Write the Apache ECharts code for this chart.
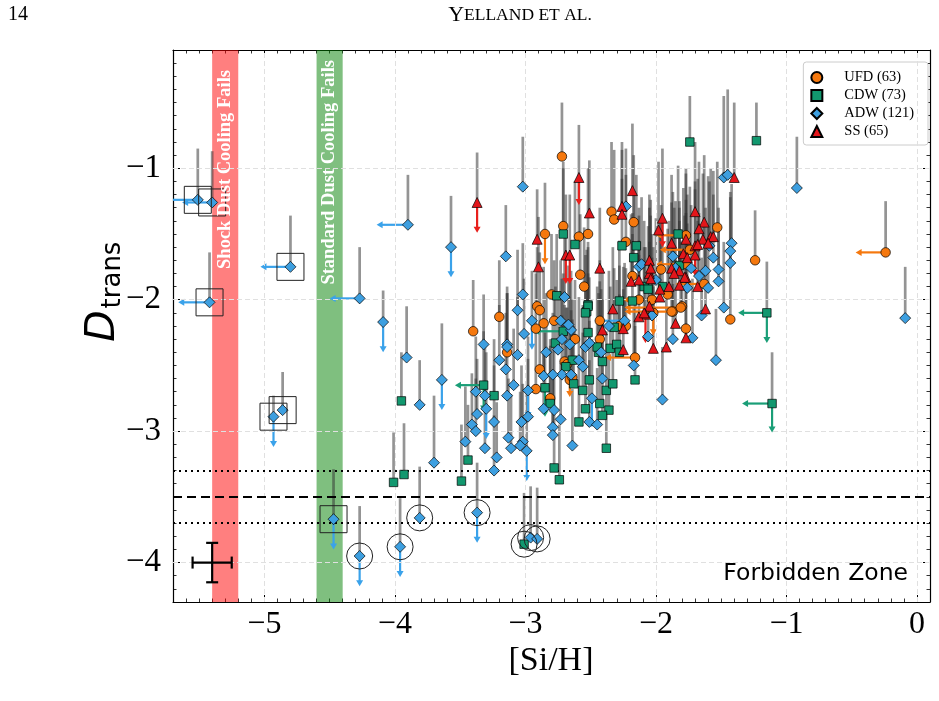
<!DOCTYPE html>
<html><head><meta charset="utf-8">
<script src="https://cdn.jsdelivr.net/npm/echarts@6/dist/echarts.min.js"></script>
<style>html,body{margin:0;padding:0;background:#fff}#c{width:939px;height:701px}</style>
</head><body><div id="c"></div>
<script>
// ---------- data ----------
const xTicks = [-5, -4, -3, -2, -1, 0];
const yTicks = [-4, -3, -2, -1];
const seriesNames = ['UFD (63)', 'CDW (73)', 'ADW (121)', 'SS (65)'];

// [Si/H], D_trans, top of upper error bar
const ufd = [
[-2.72,-0.91,-0.50],[-2.85,-1.50,-1.11],[-2.91,-2.05,-1.60],[-2.89,-2.08,-1.64],[-3.20,-2.13,-1.70],
[-2.80,-1.96,-1.50],[-2.71,-1.44,-0.95],[-2.59,-1.52,-1.05],[-2.52,-1.50,-1.00],[-2.58,-1.81,-1.35],
[-2.55,-1.90,-1.45],[-2.34,-1.33,-0.80],[-2.32,-1.39,-0.86],[-2.17,-1.41,-0.90],[-2.23,-1.56,-1.05],
[-2.18,-1.82,-1.34],[-1.96,-1.77,-1.28],[-1.77,-1.51,-1.00],[-1.77,-1.73,-1.24],[-1.91,-1.96,-1.46],
[-2.03,-2.00,-1.50],[-1.87,-2.09,-1.58],[-1.77,-2.22,-1.76],[-2.16,-2.44,-2.00],[-2.28,-2.20,-1.74],
[-2.23,-2.20,-1.76],[-2.43,-2.30,-1.86],[-2.43,-2.16,-1.70],[-2.62,-2.30,-1.85],[-2.70,-2.47,-2.04],
[-2.68,-2.49,-2.06],[-2.66,-2.61,-2.20],[-2.64,-2.59,-2.15],[-2.92,-2.68,-2.25],[-2.89,-2.53,-2.10],
[-2.78,-2.16,-1.70],[-2.86,-2.18,-1.75],[-2.92,-2.22,-1.80],[-3.40,-2.24,-1.85],[-3.14,-2.40,-1.95],
[-2.81,-2.75,-2.30],[-1.53,-1.45,-0.95],[-1.74,-1.62,-1.14],[-1.63,-1.88,-1.40],[-1.80,-2.05,-1.55],
[-1.43,-2.15,-1.66],[-1.24,-1.70,-1.32],[-0.24,-1.64,-1.25],[-2.02,-2.10,-1.60],[-1.81,-2.06,-1.56],
[-1.88,-2.09,-1.62],[-2.13,-2.00,-1.55]
];
const cdw = [
[-4.01,-3.39,-3.01],[-3.93,-3.33,-2.94],[-3.95,-2.77,-2.40],[-3.49,-3.38,-2.95],[-3.44,-3.22,-2.80],
[-3.01,-3.86,-3.47],[-2.78,-3.28,-2.85],[-2.74,-3.37,-2.95],[-2.59,-2.93,-2.50],[-2.38,-3.13,-2.70],
[-2.76,-1.97,-1.50],[-2.71,-1.50,-1.00],[-2.62,-1.58,-1.10],[-2.52,-2.04,-1.56],[-2.53,-2.09,-1.62],
[-2.26,-1.59,-1.08],[-2.15,-1.59,-1.05],[-2.17,-1.68,-1.18],[-1.83,-1.50,-0.98],[-2.09,-1.90,-1.40],
[-2.06,-1.92,-1.44],[-2.16,-2.61,-2.20],[-2.35,-2.37,-1.90],[-2.30,-2.34,-1.85],[-2.28,-2.40,-1.96],
[-2.44,-2.40,-1.95],[-2.41,-2.47,-2.00],[-2.45,-2.36,-1.90],[-2.52,-2.05,-1.60],[-2.54,-2.10,-1.66],
[-2.52,-2.25,-1.80],[-2.64,-2.46,-2.00],[-2.69,-2.51,-2.06],[-2.63,-2.64,-2.20],[-2.51,-2.61,-2.16],
[-2.38,-2.69,-2.24],[-2.43,-2.79,-2.36],[-2.36,-2.84,-2.40],[-2.41,-2.88,-2.46],[-2.54,-2.83,-2.40],
[-2.56,-2.69,-2.25],[-2.85,-2.67,-2.25],[-2.81,-2.79,-2.35],[-2.71,-2.24,-1.80],[-3.32,-2.65,-2.24],
[-3.24,-2.73,-2.30],[-2.77,-2.33,-1.90],[-2.33,-2.64,-2.20],[-1.74,-0.80,-0.45],[-1.23,-0.79,-0.50],
[-1.15,-2.10,-1.71],[-1.11,-2.79,-2.40],[-1.82,-1.74,-1.25],[-1.95,-1.90,-1.40],[-2.28,-2.01,-1.55],
[-2.18,-2.01,-1.50],[-2.32,-2.21,-1.76]
];
const adw = [
[-5.51,-1.24,-0.85],[-5.40,-1.26,-0.87],[-5.42,-2.02,-1.64],[-4.80,-1.75,-1.36],[-4.27,-1.99,-1.60],
[-4.93,-2.89,-2.73],[-4.86,-2.84,-2.55],[-4.47,-3.67,-3.29],[-4.27,-3.95,-3.57],[-3.96,-3.88,-3.51],
[-3.81,-3.66,-3.27],[-3.37,-3.62,-3.24],[-2.96,-3.81,-3.42],[-2.91,-3.82,-3.43],[-4.09,-2.17,-1.93],
[-3.91,-2.44,-2.05],[-3.90,-1.43,-1.05],[-3.81,-2.80,-2.46],[-3.70,-3.24,-2.73],[-3.57,-1.60,-1.21],
[-3.02,-1.14,-0.76],[-3.15,-1.67,-1.28],[-3.02,-1.96,-1.57],[-3.06,-2.08,-1.62],[-2.70,-1.98,-1.52],
[-2.23,-1.29,-0.85],[-2.13,-1.75,-1.30],[-2.11,-1.73,-1.22],[-1.87,-1.67,-1.18],[-1.85,-1.76,-1.25],
[-2.00,-1.85,-1.38],[-1.76,-1.91,-1.42],[-2.03,-2.12,-1.68],[-1.87,-2.30,-1.88],[-2.06,-2.28,-1.84],
[-2.17,-2.50,-2.06],[-2.24,-2.16,-1.72],[-2.36,-2.20,-1.78],[-2.42,-2.40,-1.92],[-2.54,-2.36,-1.90],
[-2.51,-2.33,-1.83],[-2.66,-2.34,-1.86],[-2.72,-2.57,-2.12],[-2.65,-2.57,-2.08],[-2.59,-2.46,-1.98],
[-2.56,-2.51,-2.04],[-2.41,-2.60,-2.18],[-2.49,-2.75,-2.30],[-2.51,-2.93,-2.46],[-2.45,-2.95,-2.52],
[-2.64,-3.11,-2.68],[-2.73,-2.91,-2.48],[-2.79,-2.97,-2.55],[-2.79,-3.03,-2.60],[-2.78,-2.84,-2.38],
[-2.86,-2.83,-2.40],[-2.86,-2.58,-2.14],[-2.79,-2.57,-2.10],[-2.98,-2.69,-2.28],[-2.98,-2.89,-2.45],
[-3.03,-2.93,-2.50],[-3.02,-3.08,-2.64],[-3.04,-3.11,-2.70],[-3.11,-3.13,-2.72],[-3.13,-3.05,-2.60],
[-2.84,-2.40,-1.95],[-2.75,-2.38,-1.94],[-2.72,-2.30,-1.84],[-2.65,-2.23,-1.78],[-2.67,-2.19,-1.74],
[-2.73,-2.16,-1.70],[-2.95,-2.16,-1.78],[-3.01,-2.26,-1.84],[-3.32,-2.34,-1.96],[-3.14,-2.34,-1.90],
[-3.14,-2.36,-1.95],[-3.20,-2.46,-2.04],[-3.06,-2.42,-1.98],[-3.15,-2.53,-2.10],[-3.64,-2.61,-2.18],
[-3.38,-2.70,-2.28],[-3.31,-2.73,-2.34],[-3.30,-2.83,-2.40],[-3.37,-2.87,-2.45],[-3.41,-2.95,-2.56],
[-3.38,-3.00,-2.60],[-3.24,-2.93,-2.50],[-3.46,-3.08,-2.66],[-3.31,-3.13,-2.74],[-3.09,-2.65,-2.22],
[-3.14,-2.73,-2.30],[-3.24,-3.30,-2.88],[-3.22,-3.20,-2.78],[-2.99,-3.15,-2.72],
[-1.48,-1.07,-0.45],[-1.45,-1.05,-0.40],[-1.59,-1.59,-1.10],[-1.42,-1.57,-1.12],[-1.43,-1.63,-1.18],
[-1.43,-1.72,-1.22],[-1.56,-1.68,-1.20],[-1.73,-1.76,-1.28],[-1.67,-1.82,-1.34],[-1.62,-1.78,-1.30],
[-1.52,-1.77,-1.30],[-1.52,-1.86,-1.44],[-1.60,-1.91,-1.45],[-1.48,-2.06,-1.56],[-1.65,-2.12,-1.68],
[-0.92,-1.15,-0.76],[-0.09,-2.14,-1.75],[-1.54,-2.46,-2.07],[-1.95,-2.76,-2.36],[-1.72,-2.29,-1.84]
];
const ss = [
[-3.37,-1.26,-0.88],[-2.91,-1.54,-1.16],[-2.90,-1.75,-1.37],[-2.59,-1.07,-0.67],[-2.51,-1.34,-0.94],
[-2.69,-1.66,-1.20],[-2.66,-1.66,-1.20],[-2.43,-1.76,-1.30],[-2.26,-1.29,-0.80],[-2.26,-1.35,-0.86],
[-2.18,-1.17,-0.66],[-2.05,-1.70,-1.20],[-1.98,-1.47,-0.95],[-1.95,-1.38,-0.85],[-1.88,-1.57,-1.05],
[-2.19,-1.86,-1.35],[-2.13,-1.85,-1.36],[-2.05,-1.80,-1.30],[-2.04,-1.76,-1.24],[-1.82,-1.78,-1.30],
[-1.77,-1.83,-1.34],[-1.90,-1.90,-1.40],[-1.97,-1.98,-1.46],[-2.05,-2.05,-1.56],[-1.85,-2.18,-1.70],
[-1.77,-2.29,-1.84],[-2.02,-2.37,-1.90],[-1.92,-2.36,-1.90],[-2.08,-2.11,-1.60],[-2.33,-2.07,-1.60],
[-2.41,-2.23,-1.76],[-2.25,-2.22,-1.75],[-2.25,-2.38,-1.92],[-2.13,-2.13,-1.66],[-2.09,-2.10,-1.60],
[-1.40,-1.07,-0.50],[-1.70,-1.33,-0.80],[-1.63,-1.41,-0.90],[-1.67,-1.46,-0.95],[-1.58,-1.52,-1.00],
[-1.56,-1.52,-1.02],[-1.64,-1.54,-1.04],[-1.60,-1.57,-1.06],[-1.70,-1.59,-1.10],[-1.68,-1.58,-1.08],
[-1.77,-1.54,-1.04],[-1.79,-1.65,-1.15],[-1.76,-1.68,-1.20],[-1.68,-1.90,-1.40],[-1.78,-1.83,-1.36],
[-1.70,-1.66,-1.16],[-1.62,-2.07,-1.56],[-2.04,-1.84,-1.36],[-1.97,-1.92,-1.42],[-1.88,-1.76,-1.26],
[-1.86,-1.80,-1.30],[-1.82,-1.89,-1.40]
];

// limits: [x, y, arrow tip]
const ufdLeft = [[-0.24,-1.64,-0.47],[-2.16,-2.44,-2.39],[-1.77,-1.51,-2.00],[-1.74,-1.62,-1.97],[-1.77,-1.73,-2.00],[-1.63,-1.88,-1.85],[-1.81,-2.06,-2.24],[-1.88,-2.09,-2.24],[-2.13,-2.00,-2.25]];
const ufdDown = [[-2.85,-1.50,-1.73],[-2.66,-2.61,-2.74],[-2.02,-2.10,-2.27]];
const cdwLeft = [[-3.32,-2.65,-3.54],[-2.71,-2.24,-2.94],[-1.15,-2.10,-1.37],[-1.11,-2.79,-1.34]];
const cdwDown = [[-2.85,-2.67,-2.89],[-1.15,-2.10,-2.33],[-1.11,-2.79,-3.01],[-3.32,-2.65,-2.85]];
const adwLeft = [[-5.51,-1.24,-5.75],[-5.40,-1.26,-5.63],[-5.42,-2.02,-5.66],[-4.80,-1.75,-5.03],[-4.27,-1.99,-4.50],[-3.90,-1.43,-4.14],[-2.24,-2.16,-2.47]];
const adwDown = [[-4.93,-2.89,-3.12],[-4.47,-3.67,-3.90],[-4.27,-3.95,-4.18],[-3.96,-3.88,-4.11],[-3.37,-3.62,-3.85],[-4.09,-2.17,-2.40],[-3.57,-1.60,-1.83],[-3.64,-2.61,-2.84],[-2.98,-2.69,-2.90],[-2.99,-3.15,-3.38],[-2.95,-2.16,-2.38],[-3.30,-2.83,-3.06],[-2.49,-2.75,-2.97]];
const ssDown = [[-3.37,-1.26,-1.49],[-2.59,-1.07,-1.28],[-2.69,-1.66,-1.88],[-2.66,-1.66,-1.88],[-1.95,-1.38,-1.60],[-2.08,-2.11,-2.33],[-1.70,-1.66,-1.82]];

const boxed = [[-5.51,-1.24],[-5.40,-1.26],[-5.42,-2.02],[-4.80,-1.75],[-4.93,-2.89],[-4.86,-2.84],[-4.47,-3.67]];
const circled = [[-4.27,-3.95],[-3.96,-3.88],[-3.81,-3.66],[-3.37,-3.62],[-3.01,-3.86],[-2.96,-3.81],[-2.91,-3.82]];

const bandShock = [-5.4, -5.2];
const bandStandard = [-4.6, -4.4];
const dottedLevels = [-3.3, -3.7];
const dashedLevels = [-3.5];
const typicalError = [[-5.4, -4.0, 0.15, 0.15]];

// ---------- styling ----------
const SERIF = "'Liberation Serif','DejaVu Serif',serif";
const SANS = "'DejaVu Sans','Liberation Sans',sans-serif";
const C_UFD = '#f5780e', C_CDW = '#12986f', C_ADW = '#3d9fe0', C_SS = '#e3161b';
const A_UFD = '#f5780e', A_CDW = '#1a9e77', A_ADW = '#3aa2ea', A_SS = '#e8201c';
const xMin = -5.7, xMax = 0.1, yMin = -4.3, yMax = -0.1;
const fmt = v => (v < 0 ? '\u2212' + Math.abs(v) : String(v));

function errItem(params, api) {
  const a = api.coord([api.value(0), api.value(1)]);
  const b = api.coord([api.value(0), api.value(2)]);
  return {type: 'line', shape: {x1: a[0], y1: a[1], x2: b[0], y2: b[1]},
          style: {stroke: 'rgba(50,50,50,0.52)', lineWidth: 2.7}};
}
function arrowItem(color, dir) {
  return function (params, api) {
    const x = api.value(0), y = api.value(1), t = api.value(2);
    const p0 = api.coord([x, y]);
    const p1 = dir === 'down' ? api.coord([x, t]) : api.coord([t, y]);
    let head, end;
    if (dir === 'down') {
      head = [[p1[0] - 3.5, p1[1] - 6], [p1[0] + 3.5, p1[1] - 6], [p1[0], p1[1]]];
      end = [p1[0], p1[1] - 5];
    } else {
      head = [[p1[0] + 6, p1[1] - 3.5], [p1[0] + 6, p1[1] + 3.5], [p1[0], p1[1]]];
      end = [p1[0] + 5, p1[1]];
    }
    return {type: 'group', children: [
      {type: 'line', shape: {x1: p0[0], y1: p0[1], x2: end[0], y2: end[1]}, style: {stroke: color, lineWidth: 2.2}},
      {type: 'polygon', shape: {points: head}, style: {fill: color}}
    ]};
  };
}
function arrowSeries(data, color, dir) {
  return {type: 'custom', data: data, renderItem: arrowItem(color, dir), encode: {x: 0, y: 1}, clip: true, silent: true, z: 3};
}

function xAxisDef(pos, major) {
  const o = {type: 'value', min: xMin, max: xMax, position: pos, gridIndex: 0,
    axisLine: {show: major, onZero: false, lineStyle: {color: '#000', width: 1.2}},
    splitLine: {show: false}, axisLabel: {show: false}};
  if (major) {
    o.axisTick = {show: true, inside: true, length: 7, customValues: xTicks, lineStyle: {color: '#000', width: 1}};
    if (pos === 'bottom') o.axisLabel = {show: true, customValues: xTicks, formatter: fmt, fontFamily: SERIF, fontSize: 32, color: '#000', margin: 7};
  } else {
    o.interval = 0.1;
    o.axisTick = {show: true, inside: true, length: 3.5, lineStyle: {color: '#000', width: 0.8}};
  }
  return o;
}
function yAxisDef(pos, major) {
  const o = {type: 'value', min: yMin, max: yMax, position: pos, gridIndex: 0,
    axisLine: {show: major, onZero: false, lineStyle: {color: '#000', width: 1.2}},
    splitLine: {show: false}, axisLabel: {show: false}};
  if (major) {
    o.axisTick = {show: true, inside: true, length: 7, customValues: yTicks, lineStyle: {color: '#000', width: 1}};
    if (pos === 'left') o.axisLabel = {show: true, customValues: yTicks, formatter: fmt, fontFamily: SERIF, fontSize: 33, color: '#000', margin: 12};
  } else {
    o.interval = 0.1;
    o.axisTick = {show: true, inside: true, length: 3.5, lineStyle: {color: '#000', width: 0.8}};
  }
  return o;
}

const allPoints = [].concat(ufd, cdw, adw, ss);
const gridColor = '#e0e0e0';

const option = {
  animation: false,
  backgroundColor: '#fff',
  grid: {left: 173, top: 50, width: 757, height: 552, containLabel: false},
  xAxis: [xAxisDef('bottom', true), xAxisDef('bottom', false), xAxisDef('top', true), xAxisDef('top', false)],
  yAxis: [yAxisDef('left', true), yAxisDef('left', false), yAxisDef('right', true), yAxisDef('right', false)],
  legend: {
    orient: 'vertical', right: 11, top: 62, data: seriesNames,
    backgroundColor: '#fff', borderColor: '#cccccc', borderWidth: 1, borderRadius: 3,
    padding: [8, 14, 6, 7], itemGap: 3, itemWidth: 11, itemHeight: 11,
    textStyle: {fontFamily: SERIF, fontSize: 14.5, color: '#000', padding: [0, 0, 0, 17]}
  },
  series: [
    { // background: bands, grid lines
      type: 'scatter', data: [], silent: true, z: 1,
      markArea: {silent: true, data: [
        [{xAxis: bandShock[0], yAxis: yMin, itemStyle: {color: 'rgba(255,0,0,0.5)'}}, {xAxis: bandShock[1], yAxis: yMax}],
        [{xAxis: bandStandard[0], yAxis: yMin, itemStyle: {color: 'rgba(0,128,0,0.5)'}}, {xAxis: bandStandard[1], yAxis: yMax}]
      ]},
      markLine: {silent: true, symbol: 'none', label: {show: false},
        lineStyle: {color: gridColor, type: [5, 3], width: 1},
        data: xTicks.map(v => ({xAxis: v})).concat(yTicks.map(v => ({yAxis: v})))}
    },
    { // reference levels
      type: 'scatter', data: [], silent: true, z: 2,
      markLine: {silent: true, symbol: 'none', label: {show: false},
        data: dottedLevels.map(v => ({yAxis: v, lineStyle: {color: '#000', type: [2, 4], width: 2}}))
          .concat(dashedLevels.map(v => ({yAxis: v, lineStyle: {color: '#000', type: [9, 5], width: 2}})))}
    },
    {type: 'custom', data: allPoints, renderItem: errItem, encode: {x: 0, y: 1}, clip: true, silent: true, z: 2},
    arrowSeries(ufdLeft, A_UFD, 'left'), arrowSeries(ufdDown, A_UFD, 'down'),
    arrowSeries(cdwLeft, A_CDW, 'left'), arrowSeries(cdwDown, A_CDW, 'down'),
    arrowSeries(adwLeft, A_ADW, 'left'), arrowSeries(adwDown, A_ADW, 'down'),
    arrowSeries(ssDown, A_SS, 'down'),
    {name: seriesNames[0], type: 'scatter', data: ufd, symbol: 'circle', symbolSize: 9.5, z: 5,
     itemStyle: {color: C_UFD, borderColor: '#000', borderWidth: 0.7, opacity: 1}},
    {name: seriesNames[1], type: 'scatter', data: cdw, symbol: 'rect', symbolSize: 8.5, z: 5,
     itemStyle: {color: C_CDW, borderColor: '#000', borderWidth: 0.7, opacity: 1}},
    {name: seriesNames[2], type: 'scatter', data: adw, symbol: 'diamond', symbolSize: 11, z: 5,
     itemStyle: {color: C_ADW, borderColor: '#000', borderWidth: 0.7, opacity: 1}},
    {name: seriesNames[3], type: 'scatter', data: ss, symbol: 'triangle', symbolSize: 10, z: 5,
     itemStyle: {color: C_SS, borderColor: '#000', borderWidth: 0.7, opacity: 1}},
    { // boxes round special stars
      type: 'custom', data: boxed, encode: {x: 0, y: 1}, silent: true, z: 6, clip: true,
      renderItem: (p, api) => { const c = api.coord([api.value(0), api.value(1)]);
        return {type: 'rect', shape: {x: c[0] - 13.5, y: c[1] - 13.5, width: 27, height: 27}, style: {fill: null, stroke: '#222', lineWidth: 1}}; }
    },
    { // circles round special stars
      type: 'custom', data: circled, encode: {x: 0, y: 1}, silent: true, z: 6, clip: true,
      renderItem: (p, api) => { const c = api.coord([api.value(0), api.value(1)]);
        return {type: 'circle', shape: {cx: c[0], cy: c[1], r: 13}, style: {fill: null, stroke: '#222', lineWidth: 1}}; }
    },
    { // typical error cross
      type: 'custom', data: typicalError, encode: {x: 0, y: 1}, silent: true, z: 6,
      renderItem: (p, api) => {
        const x = api.value(0), y = api.value(1), ex = api.value(2), ey = api.value(3);
        const l = api.coord([x - ex, y]), r = api.coord([x + ex, y]);
        const t = api.coord([x, y + ey]), b = api.coord([x, y - ey]);
        const st = {stroke: '#000', lineWidth: 2.2};
        return {type: 'group', children: [
          {type: 'line', shape: {x1: l[0], y1: l[1], x2: r[0], y2: r[1]}, style: st},
          {type: 'line', shape: {x1: t[0], y1: t[1], x2: b[0], y2: b[1]}, style: st},
          {type: 'line', shape: {x1: l[0], y1: l[1] - 6, x2: l[0], y2: l[1] + 6}, style: st},
          {type: 'line', shape: {x1: r[0], y1: r[1] - 6, x2: r[0], y2: r[1] + 6}, style: st},
          {type: 'line', shape: {x1: t[0] - 6, y1: t[1], x2: t[0] + 6, y2: t[1]}, style: st},
          {type: 'line', shape: {x1: b[0] - 6, y1: b[1], x2: b[0] + 6, y2: b[1]}, style: st}
        ]};
      }
    }
  ]
};

const chart = echarts.init(document.getElementById('c'));
chart.setOption(option);

// text decorations positioned through the axes
const pShock = chart.convertToPixel({xAxisIndex: 0, yAxisIndex: 0}, [(bandShock[0] + bandShock[1]) / 2, yMax]);
const pStd = chart.convertToPixel({xAxisIndex: 0, yAxisIndex: 0}, [(bandStandard[0] + bandStandard[1]) / 2, yMax]);
chart.setOption({
  graphic: [
    {type: 'text', x: 8, y: 5, style: {text: '14', fontFamily: SERIF, fontSize: 20, fill: '#000'}},
    {type: 'text', x: 520, y: 15, style: {text: '{a|Y}{b|ELLAND ET AL.}', align: 'center', verticalAlign: 'middle',
      rich: {a: {fontFamily: SERIF, fontSize: 22, fill: '#000'}, b: {fontFamily: SERIF, fontSize: 17.5, fill: '#000'}}}},
    {type: 'text', x: pShock[0], y: pShock[1] + 20, rotation: Math.PI / 2, z: 10,
     style: {text: 'Shock Dust Cooling Fails', align: 'right', verticalAlign: 'middle', fontFamily: SERIF, fontWeight: 'bold', fontSize: 18.5, fill: '#fff'}},
    {type: 'text', x: pStd[0], y: pStd[1] + 10, rotation: Math.PI / 2, z: 10,
     style: {text: 'Standard Dust Cooling Fails', align: 'right', verticalAlign: 'middle', fontFamily: SERIF, fontWeight: 'bold', fontSize: 18.5, fill: '#fff'}},
    {type: 'text', x: 908, y: 574, z: 10,
     style: {text: 'Forbidden Zone', align: 'right', verticalAlign: 'middle', fontFamily: SANS, fontSize: 23.5, fill: '#000'}},
    {type: 'text', x: 551, y: 661,
     style: {text: '[Si/H]', align: 'center', verticalAlign: 'middle', fontFamily: SERIF, fontSize: 34, fill: '#000'}},
    {type: 'text', x: 103, y: 326, rotation: Math.PI / 2,
     style: {text: 'D', align: 'center', verticalAlign: 'middle', fontFamily: SANS, fontStyle: 'italic', fontSize: 41, fill: '#000'}},
    {type: 'text', x: 113, y: 275, rotation: Math.PI / 2,
     style: {text: 'trans', align: 'center', verticalAlign: 'middle', fontFamily: SANS, fontSize: 26, fill: '#000'}}
  ]
});
</script>
</body></html>
